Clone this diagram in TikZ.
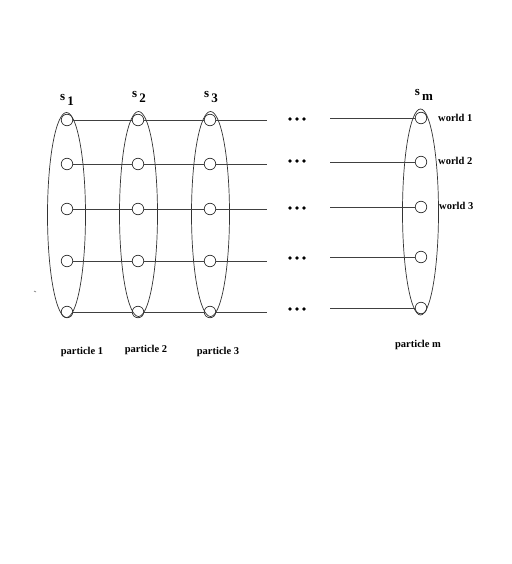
\documentclass[tikz,border=0pt]{standalone}
\usepackage{fontspec}
\setmainfont{Liberation Serif}
\usetikzlibrary{shapes.geometric}
\begin{document}
\begin{tikzpicture}[x=1pt,y=-1pt,
  grp/.style={draw=black!80,line width=0.7pt,ellipse,minimum width=38pt,minimum height=205pt,inner sep=0pt},
  wdot/.style={draw=black!80,line width=0.7pt,circle,minimum size=11.5pt,inner sep=0pt},
  link/.style={draw=black!75,line width=0.8pt},
  lbl/.style={font=\bfseries\fontsize{10.5}{12}\selectfont,inner sep=0pt},
  slbl/.style={font=\bfseries\fontsize{13}{14}\selectfont,inner sep=0pt},
  bul/.style={fill=black,circle,inner sep=0pt,minimum size=3.6pt}]
\useasboundingbox[fill=white] (0,0) rectangle (511,564);
% groups
\node[grp] (e1) at (66.5,215) {};
\node[grp] (e2) at (138.5,214) {};
\node[grp] (e3) at (210.5,214) {};
\node[grp,minimum width=36pt,minimum height=206pt] (em) at (420.5,212) {};
% circles
\foreach \i/\y in {1/120,2/164,3/209,4/261,5/312}{
  \node[wdot] (a\i) at (67,\y) {};
  \node[wdot] (b\i) at (138,\y) {};
  \node[wdot] (c\i) at (210,\y) {};
  \coordinate (r\i) at (267,\y);
}
\foreach \i/\y in {1/118,2/162,3/207,4/257,5/308}{
  \node[wdot] (m\i) at (421,\y) {};
  \coordinate (l\i) at (330,\y);
}
% ellipsis dots
\foreach \i/\y in {1/119,2/161,3/208,4/258,5/309}{
  \node[bul] (dl\i) at (290,\y) {};
  \node[bul] (dc\i) at (297,\y) {};
  \node[bul] (dr\i) at (304,\y) {};
}
% links
\foreach \i in {1,...,5}{
  \draw[link] (a\i) -- (b\i) -- (c\i) -- (r\i);
  \draw[link] (l\i) -- (m\i);
}
% labels
\node[slbl] (s1) at (67,100) {s\raisebox{-5pt}{\,1}};
\node[slbl] (s2) at (139,97) {s\raisebox{-5pt}{\,2}};
\node[slbl] (s3) at (211,97) {s\raisebox{-5pt}{\,3}};
\node[slbl] (sm) at (424,95) {s\raisebox{-5pt}{\,m}};
\node[lbl,anchor=west] (w1) at (438,118) {world 1};
\node[lbl,anchor=west] (w2) at (438,161) {world 2};
\node[lbl,anchor=west] (w3) at (439,206) {world 3};
\node[lbl] (p1) at (82,352) {particle 1};
\node[lbl] (p2) at (146,350) {particle 2};
\node[lbl] (p3) at (218,352) {particle 3};
\node[lbl] (pm) at (418,345) {particle m};
\draw[black!60,line width=0.6pt] (34,291) -- (36,292);
\end{tikzpicture}
\end{document}
